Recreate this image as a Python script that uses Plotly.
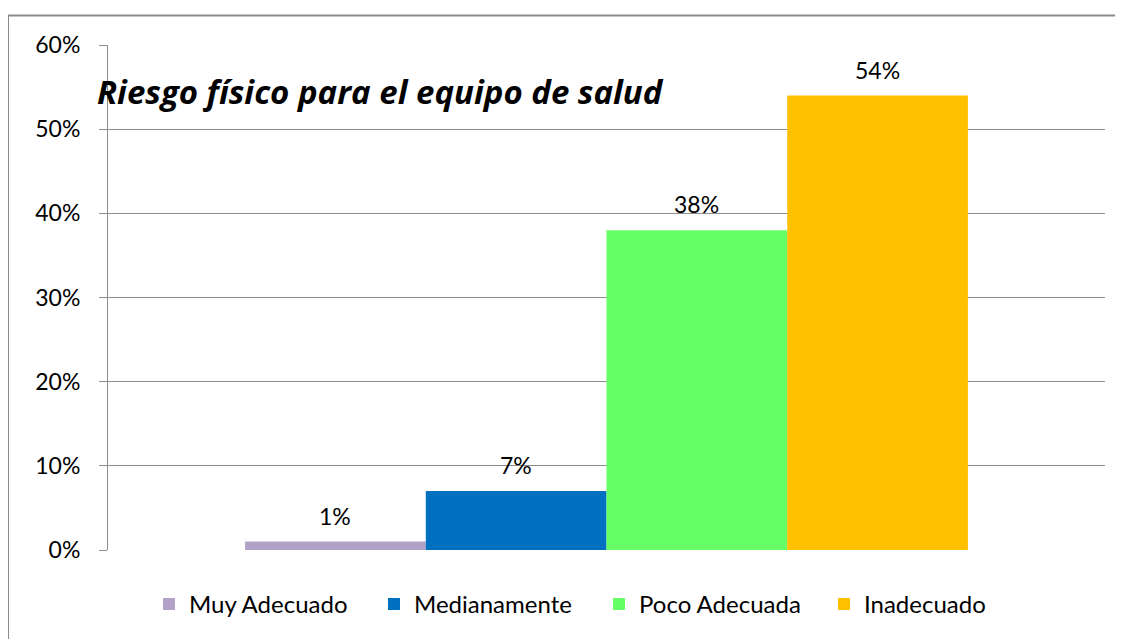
import plotly.graph_objects as go

categories = ["Riesgo físico"]
series_names = ["Muy Adecuado", "Medianamente", "Poco Adecuada", "Inadecuado"]
series_values = [0.01, 0.07, 0.38, 0.54]
series_colors = ["#B3A2C7", "#0070C0", "#66FF66", "#FFC000"]
tick_vals = [0, 0.1, 0.2, 0.3, 0.4, 0.5, 0.6]
tick_text = ["0%", "10%", "20%", "30%", "40%", "50%", "60%"]
title_text = "Riesgo físico para el equipo de salud"

FONT = "Lato"
BARGAP = 0.275
n = len(series_names)

fig = go.Figure()
for name, val, col in zip(series_names, series_values, series_colors):
    fig.add_trace(go.Bar(
        x=[0], y=[val], name=name, marker=dict(color=col, line=dict(width=0)),
    ))

# page has an 8px body margin; size the figure to fit the window
OFF = 8
W, H = 1123 - OFF, 639 - OFF
L = 108 - OFF
T = 44.5 - OFF
R = W - (1105 - OFF)
B = H - (550.5 - OFF)
pw, ph = W - L - R, H - T - B

def px(x):
    return (x - OFF - L) / pw

def py(y):
    return (H - B - (y - OFF)) / ph

bw = (1 - BARGAP) / n
label_annotations = []
for i, val in enumerate(series_values):
    xc = -(1 - BARGAP) / 2 + (i + 0.5) * bw
    label_annotations.append(dict(
        text=f"{round(val*100)}%", xref="x", yref="y", x=xc, y=val,
        xanchor="center", yanchor="middle", yshift=26, showarrow=False,
        font=dict(family=FONT, size=23, color="#000000")))

fig.update_layout(
    width=W, height=H,
    margin=dict(l=L, r=R, t=T, b=B, pad=0),
    paper_bgcolor="white", plot_bgcolor="white",
    barmode="group", bargap=BARGAP, bargroupgap=0,
    font=dict(family=FONT, color="#000000"),
    showlegend=True,
    legend=dict(orientation="h", x=px(149), xanchor="left", y=py(605), yanchor="middle",
                font=dict(family=FONT, size=24, color="#000000"),
                itemwidth=30, tracegroupgap=0, traceorder="normal",
                entrywidth=180, entrywidthmode="pixels"),
    xaxis=dict(range=[-0.5, 0.5], showticklabels=False, showline=False, showgrid=False,
               ticks="", zeroline=False, fixedrange=True),
    yaxis=dict(range=[0, 0.6], tickvals=tick_vals, ticktext=tick_text,
               showgrid=True, gridcolor="#8C8C8C", gridwidth=1,
               showline=True, linecolor="#8C8C8C", linewidth=1,
               ticks="outside", ticklen=8, tickcolor="#8C8C8C",
               ticklabelstandoff=14,
               tickfont=dict(family=FONT, size=23, color="#000000"),
               zeroline=False, fixedrange=True),
    annotations=label_annotations + [
        dict(text=f"<b><i>{title_text}</i></b>", xref="paper", yref="paper",
             x=px(95), y=py(91), xanchor="left", yanchor="middle", showarrow=False,
             font=dict(family="Open Sans", size=33, color="#000000"))],
    shapes=[
        dict(type="line", xref="paper", yref="paper", x0=px(8), x1=px(8), y0=py(650), y1=py(15),
             line=dict(color="#8C8C8C", width=2)),
        dict(type="line", xref="paper", yref="paper", x0=px(8), x1=px(1130), y0=py(15), y1=py(15),
             line=dict(color="#8C8C8C", width=2)),
    ],
)
fig.write_html("out.html")
